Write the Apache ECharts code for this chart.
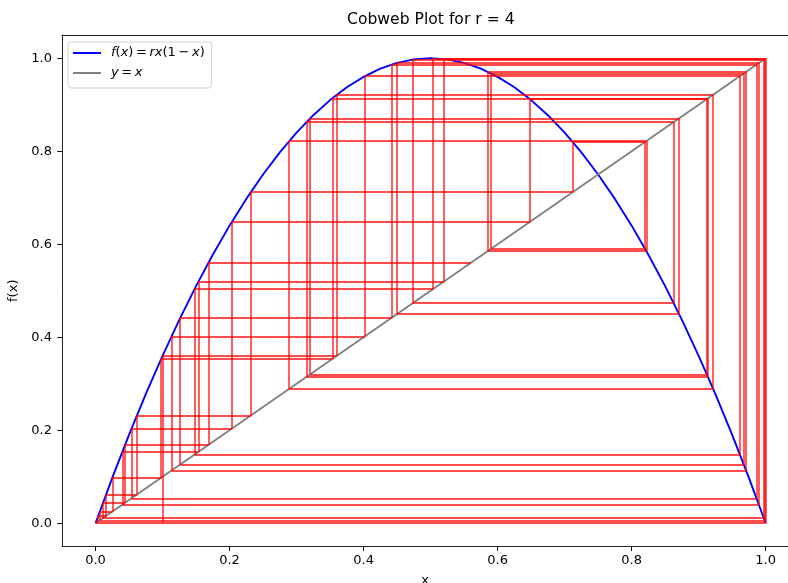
<!DOCTYPE html>
<html>
<head>
<meta charset="utf-8">
<title>Cobweb Plot for r = 4</title>
<script src="https://cdn.jsdelivr.net/npm/echarts@6/dist/echarts.min.js"></script>
<style>
  html, body { margin: 0; padding: 0; background: #ffffff; }
  #chart { width: 788px; height: 583px; }
</style>
</head>
<body>
<div id="chart"></div>
<script>
// Logistic map f(x) = r x (1 - x), r = 4, sampled on [0, 1]
const curveX = [0, 0.025, 0.05, 0.075, 0.1, 0.125, 0.15, 0.175, 0.2, 0.225,
  0.25, 0.275, 0.3, 0.325, 0.35, 0.375, 0.4, 0.425, 0.45, 0.475, 0.5,
  0.525, 0.55, 0.575, 0.6, 0.625, 0.65, 0.675, 0.7, 0.725, 0.75,
  0.775, 0.8, 0.825, 0.85, 0.875, 0.9, 0.925, 0.95, 0.975, 1];
const curveY = [0, 0.0975, 0.19, 0.2775, 0.36, 0.4375, 0.51, 0.5775, 0.64, 0.6975,
  0.75, 0.7975, 0.84, 0.8775, 0.91, 0.9375, 0.96, 0.9775, 0.99, 0.9975, 1,
  0.9975, 0.99, 0.9775, 0.96, 0.9375, 0.91, 0.8775, 0.84, 0.7975, 0.75,
  0.6975, 0.64, 0.5775, 0.51, 0.4375, 0.36, 0.2775, 0.19, 0.0975, 0];

// Identity line y = x
const diagX = [0, 1];
const diagY = [0, 1];

// Iterates x0, x1, ..., x50 of the map, starting from x0 = 0.1
const orbit = [0.1, 0.36, 0.9216, 0.28901, 0.82194, 0.58542, 0.97081, 0.11334,
  0.40197, 0.96156, 0.14784, 0.50392, 0.99994, 0.00025, 0.00098, 0.00394,
  0.01568, 0.06174, 0.23173, 0.71212, 0.82002, 0.59037, 0.96734, 0.12638,
  0.44165, 0.98638, 0.05374, 0.20342, 0.64816, 0.91220, 0.32034, 0.87089,
  0.44976, 0.98990, 0.03999, 0.15355, 0.51989, 0.99842, 0.00632, 0.02511,
  0.09791, 0.35331, 0.91393, 0.31464, 0.86257, 0.4736, 0.99721, 0.01113,
  0.04402, 0.16833, 0.55998];

// Axis ticks
const xTicks = [0, 0.2, 0.4, 0.6, 0.8, 1.0];
const yTicks = [0, 0.2, 0.4, 0.6, 0.8, 1.0];

const FONT = 'DejaVu Sans';
const curveName = 'f(x) = rx(1 \u2212 x)';
const diagName = 'y = x';

// Cobweb segments: the walk starts on the x-axis below x0, then alternates
// vertical moves to the curve and horizontal moves to the diagonal.
const cobweb = [];
cobweb.push({ coords: [[orbit[0], 0], [orbit[0], orbit[1]]] });
for (let i = 0; i < orbit.length - 1; i++) {
  if (i > 0) {
    cobweb.push({ coords: [[orbit[i], orbit[i]], [orbit[i], orbit[i + 1]]] });
  }
  cobweb.push({ coords: [[orbit[i], orbit[i + 1]], [orbit[i + 1], orbit[i + 1]]] });
}

const curveData = curveX.map((x, i) => [x, curveY[i]]);
const diagData = diagX.map((x, i) => [x, diagY[i]]);

const chart = echarts.init(document.getElementById('chart'), null, { renderer: 'canvas' });

// The plot frame runs past the right edge of the canvas, so the x range
// stops where the canvas ends.
const X_MIN = -0.05;
const X_MAX = 1.0333;
const Y_MIN = -0.05;
const Y_MAX = 1.05;

const spine = { show: true, onZero: false, lineStyle: { color: '#222', width: 1 } };
const labelStyle = { fontFamily: FONT, fontSize: 13, color: '#000' };

chart.setOption({
  animation: false,
  backgroundColor: '#ffffff',
  title: {
    text: 'Cobweb Plot for r = 4',
    left: 347,
    top: 12,
    padding: 0,
    textStyle: { fontFamily: FONT, fontSize: 15.6, fontWeight: 'normal', color: '#000' }
  },
  grid: {
    left: 62,
    top: 35,
    width: 726,
    height: 511.5,
    show: false,
    containLabel: false,
    outerBoundsMode: 'none'
  },
  legend: {
    orient: 'vertical',
    left: 68,
    top: 42,
    padding: [4, 7, 8, 5],
    itemWidth: 28,
    itemHeight: 14,
    itemGap: 6,
    icon: 'path://M0,0 H100 V7 H0 Z',
    selectedMode: false,
    backgroundColor: 'rgba(255,255,255,0.8)',
    borderColor: '#d0d0d0',
    borderWidth: 1,
    borderRadius: 3,
    data: [curveName, diagName],
    formatter: function (name) {
      if (name === curveName) {
        return '{sp| }{i|f}({i|x})\u2009=\u2009{i|rx}(1\u2009\u2212\u2009{i|x})';
      }
      return '{sp| }{i|y}\u2009=\u2009{i|x}';
    },
    textStyle: {
      fontFamily: FONT,
      fontSize: 13,
      color: '#000',
      lineHeight: 14,
      rich: {
        sp: { width: 5, fontSize: 13 },
        i: { fontFamily: FONT, fontStyle: 'italic', fontSize: 13, color: '#000' }
      }
    }
  },
  xAxis: [
    {
      type: 'value',
      min: X_MIN,
      max: X_MAX,
      position: 'bottom',
      splitLine: { show: false },
      axisLine: spine,
      name: 'x',
      nameLocation: 'middle',
      nameGap: 28,
      nameTextStyle: labelStyle,
      axisTick: { show: true, length: 4.6, customValues: xTicks, lineStyle: { color: '#000', width: 1 } },
      axisLabel: Object.assign({ customValues: xTicks, margin: 8, formatter: v => Number(v).toFixed(1) }, labelStyle)
    },
    {
      // top spine of the frame
      type: 'value',
      min: X_MIN,
      max: X_MAX,
      position: 'top',
      splitLine: { show: false },
      axisLine: spine,
      axisTick: { show: false },
      axisLabel: { show: false }
    }
  ],
  yAxis: {
    type: 'value',
    min: Y_MIN,
    max: Y_MAX,
    splitLine: { show: false },
    axisLine: spine,
    name: 'f(x)',
    nameLocation: 'middle',
    nameGap: 31,
    nameRotate: 90,
    nameTextStyle: labelStyle,
    axisTick: { show: true, length: 4.6, customValues: yTicks, lineStyle: { color: '#000', width: 1 } },
    axisLabel: Object.assign({ customValues: yTicks, margin: 10, formatter: v => Number(v).toFixed(1) }, labelStyle)
  },
  series: [
    {
      name: curveName,
      type: 'line',
      data: curveData,
      showSymbol: false,
      symbol: 'none',
      smooth: false,
      z: 2,
      lineStyle: { color: '#0000ff', width: 1.9 },
      itemStyle: { color: '#0000ff' }
    },
    {
      name: diagName,
      type: 'line',
      data: diagData,
      showSymbol: false,
      symbol: 'none',
      z: 2,
      lineStyle: { color: '#808080', width: 1.9 },
      itemStyle: { color: '#808080' }
    },
    {
      name: 'cobweb',
      type: 'lines',
      coordinateSystem: 'cartesian2d',
      polyline: false,
      silent: true,
      z: 3,
      lineStyle: { color: '#ff0000', width: 1.8, opacity: 0.7, curveness: 0 },
      data: cobweb
    }
  ]
});
</script>
</body>
</html>
